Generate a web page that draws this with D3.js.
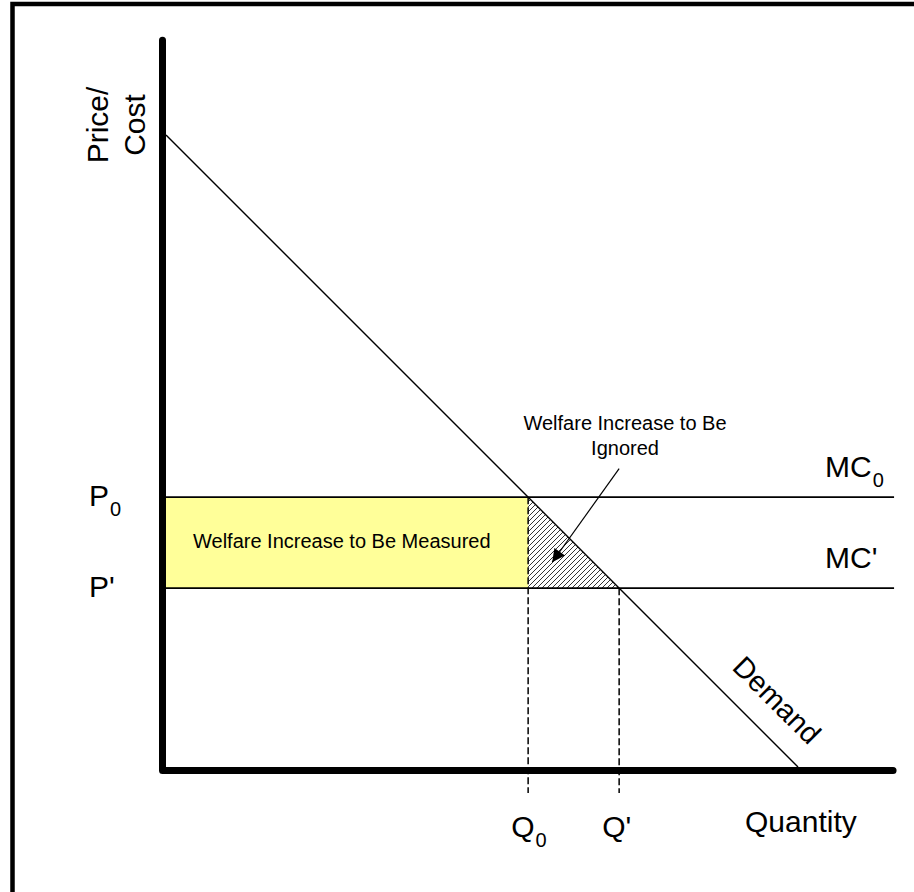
<!DOCTYPE html>
<html>
<head>
<meta charset="utf-8">
<script src="https://cdn.jsdelivr.net/npm/d3@7"></script>
<style>
  html, body { margin: 0; padding: 0; background: #fff; }
  svg { display: block; font-family: "Liberation Sans", Arial, sans-serif; }
</style>
</head>
<body>
<div id="chart"></div>
<script>
// ---- data (abstract price / quantity units) ----
const demandPoints = [[0, 100], [100, 0]];       // [quantity, price]
const mcLevels = [42.7, 28.3];                   // MC0 (P0), MC' (P')
const mcNames = ["MC", "MC"];
const mcSubs = ["0", ""];
const mcSuffix = ["", "'"];
const priceNames = ["P", "P"];
const priceSubs = ["0", ""];
const priceSuffix = ["", "'"];
const quantities = [57.3, 71.7];                 // Q0, Q'
const quantityNames = ["Q", "Q"];
const quantitySubs = ["0", ""];
const quantitySuffix = ["", "'"];
const axisMax = [115.2, 115];                    // [quantity, price] extents
const arrowPoints = [[71.7, 47.2], [61.1, 32.4]];// tail -> tip
const measuredText = "Welfare Increase to Be Measured";
const ignoredText = ["Welfare Increase to Be", "Ignored"];

const W = 914, H = 892;
const svg = d3.select("#chart").append("svg").attr("width", W).attr("height", H);

const x = d3.scaleLinear().domain([0, 100]).range([166, 798]);
const y = d3.scaleLinear().domain([0, 100]).range([767, 135]);

// outer frame (only left & top visible)
svg.append("rect").attr("x", 12.5).attr("y", 4).attr("width", 950).attr("height", 950)
  .attr("fill", "none").attr("stroke", "#000").attr("stroke-width", 4.5);

// hatch pattern
const defs = svg.append("defs");
const pat = defs.append("pattern").attr("id", "hatch").attr("patternUnits", "userSpaceOnUse")
  .attr("width", 5).attr("height", 5);
pat.append("path").attr("d", "M-1,1 l2,-2 M0,5 l5,-5 M4,6 l2,-2")
  .attr("stroke", "#000").attr("stroke-width", 0.8);
defs.append("marker").attr("id", "arrowhead").attr("viewBox", "0 0 10 10")
  .attr("refX", 10).attr("refY", 5).attr("markerUnits", "userSpaceOnUse")
  .attr("markerWidth", 16).attr("markerHeight", 13).attr("orient", "auto")
  .append("path").attr("d", "M0,0 L10,5 L0,10 Z").attr("fill", "#000");

const [p0, p1] = mcLevels;
const [q0, q1] = quantities;

// yellow rectangle (welfare increase measured)
svg.append("rect")
  .attr("x", x(0)).attr("y", y(p0))
  .attr("width", x(q0) - x(0)).attr("height", y(p1) - y(p0))
  .attr("fill", "#FFFF99");

// hatched triangle
const tri = [[q0, p0], [q0, p1], [q1, p1]];
svg.append("path")
  .attr("d", d3.line().x(d => x(d[0])).y(d => y(d[1]))(tri) + "Z")
  .attr("fill", "url(#hatch)");

// dashed quantity lines
svg.selectAll(".qline").data(quantities).join("line")
  .attr("x1", d => x(d)).attr("x2", d => x(d))
  .attr("y1", (d, i) => y(mcLevels[i])).attr("y2", y(0) + 26)
  .attr("stroke", "#000").attr("stroke-width", 1.5).attr("stroke-dasharray", "7,3");

// MC lines
svg.selectAll(".mc").data(mcLevels).join("line")
  .attr("x1", x(0)).attr("x2", x(axisMax[0]))
  .attr("y1", d => y(d)).attr("y2", d => y(d))
  .attr("stroke", "#000").attr("stroke-width", 1.8);

// demand line
svg.append("path")
  .attr("d", d3.line().x(d => x(d[0])).y(d => y(d[1]))(demandPoints))
  .attr("stroke", "#000").attr("stroke-width", 1.4).attr("fill", "none");

// arrow
svg.append("line")
  .attr("x1", x(arrowPoints[0][0])).attr("y1", y(arrowPoints[0][1]))
  .attr("x2", x(arrowPoints[1][0])).attr("y2", y(arrowPoints[1][1]))
  .attr("stroke", "#000").attr("stroke-width", 1.2).attr("marker-end", "url(#arrowhead)");

// axes
svg.append("path")
  .attr("d", `M${x(0) - 3.5},${y(axisMax[1])} L${x(0) - 3.5},${y(0) + 3.5} L${x(axisMax[0]) - 1},${y(0) + 3.5}`)
  .attr("fill", "none").attr("stroke", "#000").attr("stroke-width", 7)
  .attr("stroke-linecap", "round").attr("stroke-linejoin", "round");

// ---- texts ----
function subLabel(xPos, yPos, main, sub, suffix) {
  const t = svg.append("text").attr("x", xPos).attr("y", yPos)
    .attr("font-size", 30).attr("fill", "#000");
  t.append("tspan").text(main);
  if (sub) t.append("tspan").attr("font-size", 20).attr("dy", 10).attr("dx", 1).text(sub);
  if (suffix) t.append("tspan").text(suffix);
  return t;
}

priceNames.forEach((n, i) => subLabel(89, y(mcLevels[i]) + 9, n, priceSubs[i], priceSuffix[i]));
mcNames.forEach((n, i) => subLabel(825, y(mcLevels[i]) - 20, n, mcSubs[i], mcSuffix[i]));
quantityNames.forEach((n, i) => subLabel(x(quantities[i]) - 17, 837, n, quantitySubs[i], quantitySuffix[i]));

svg.append("text").attr("x", 745).attr("y", 832).attr("font-size", 30).text("Quantity");

svg.append("text").attr("transform", "translate(108,125) rotate(-90)")
  .attr("text-anchor", "middle").attr("font-size", 30).text("Price/");
svg.append("text").attr("transform", "translate(145,125) rotate(-90)")
  .attr("text-anchor", "middle").attr("font-size", 30).text("Cost");

svg.append("text").attr("transform", "translate(777,700) rotate(45)")
  .attr("text-anchor", "middle").attr("dy", "0.35em").attr("font-size", 29).text("Demand");

svg.append("text").attr("x", 193).attr("y", 548).attr("font-size", 20).text(measuredText);

svg.selectAll(".ign").data(ignoredText).join("text")
  .attr("x", 625).attr("y", (d, i) => 430 + i * 25)
  .attr("text-anchor", "middle").attr("font-size", 20).text(d => d);
</script>
</body>
</html>
